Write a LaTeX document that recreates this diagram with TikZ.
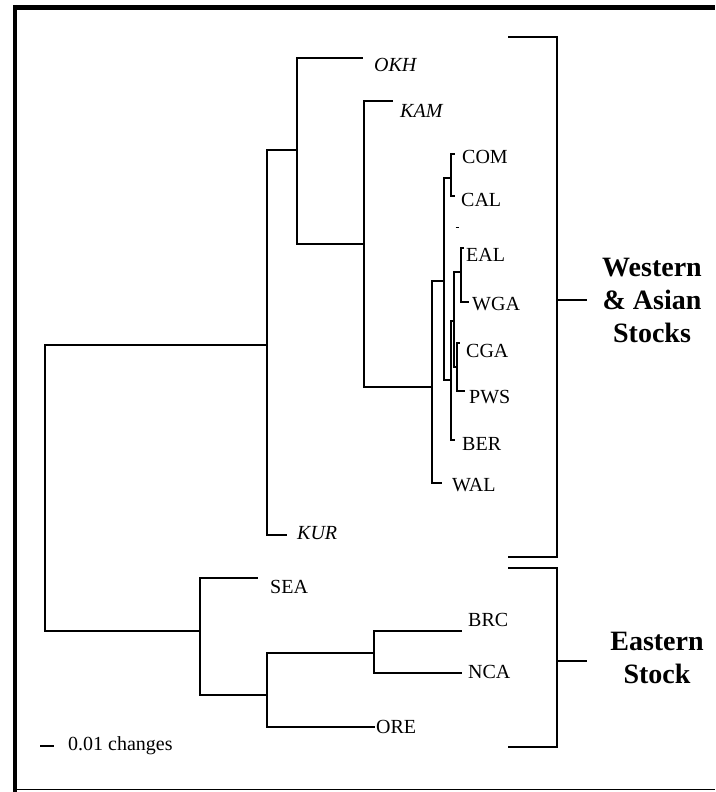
\documentclass[tikz,border=0pt]{standalone}
\usepackage{fontspec}
\setmainfont{Liberation Serif}
\usetikzlibrary{positioning}

\begin{document}
\begin{tikzpicture}[x=1pt,y=-1pt,
  every node/.style={font=\fontsize{20}{24}\selectfont,inner sep=0pt},
  leaf/.style={anchor=west},
  branch/.style={line width=1.8pt},
  brace/.style={line width=1.8pt},
  group/.style={font=\fontsize{28}{33}\selectfont\bfseries,align=center}]
\useasboundingbox (0,0) rectangle (715,792);
% frame
\draw[line width=4.5pt] (13,7.5) -- (715,7.5);
\draw[line width=4pt] (15,5) -- (15,792);
\draw[line width=1.5pt] (15,789.5) -- (715,789.5);
% internal nodes
\coordinate (root) at (45,488);
\coordinate (west) at (267,345);
\coordinate (okhkam) at (297,150);
\coordinate (kamgrp) at (364,244);
\coordinate (ncg) at (432,387);
\coordinate (cga1) at (444,281);
\coordinate (comcal) at (451,178);
\coordinate (cga2) at (451,380);
\coordinate (cga3) at (454,321);
\coordinate (ealwga) at (461,272);
\coordinate (cgapws) at (457,367);
\coordinate (east) at (200,631);
\coordinate (brcgrp) at (267,695);
\coordinate (brcnca) at (374,653);
% tips
\coordinate (tOKH) at (363,58);
\coordinate (tKAM) at (393,101);
\coordinate (tCOM) at (455,154);
\coordinate (tCAL) at (455,196);
\coordinate (tEAL) at (464,248);
\coordinate (tWGA) at (469,302);
\coordinate (tCGA) at (460,343);
\coordinate (tPWS) at (465,391);
\coordinate (tBER) at (455,440);
\coordinate (tWAL) at (442,483);
\coordinate (tKUR) at (287,535);
\coordinate (tSEA) at (258,578);
\coordinate (tBRC) at (462,631);
\coordinate (tNCA) at (462,673);
\coordinate (tORE) at (375,727);
% labels
\node[leaf] (OKH) at (374,65) {\itshape OKH};
\node[leaf] (KAM) at (400,111) {\itshape KAM};
\node[leaf] (COM) at (462,157) {COM};
\node[leaf] (CAL) at (461,200) {CAL};
\node[leaf] (EAL) at (466,255) {EAL};
\node[leaf] (WGA) at (472,304) {WGA};
\node[leaf] (CGA) at (466,351) {CGA};
\node[leaf] (PWS) at (469,397) {PWS};
\node[leaf] (BER) at (462,444) {BER};
\node[leaf] (WAL) at (452,485) {WAL};
\node[leaf] (KUR) at (297,533) {\itshape KUR};
\node[leaf] (SEA) at (270,587) {SEA};
\node[leaf] (BRC) at (468,620) {BRC};
\node[leaf] (NCA) at (468,672) {NCA};
\node[leaf] (ORE) at (376,727) {ORE};
% tree
\draw[branch] (root) |- (west) (root) |- (east);
\draw[branch] (west) |- (okhkam) (west) |- (tKUR);
\draw[branch] (okhkam) |- (tOKH) (okhkam) |- (kamgrp);
\draw[branch] (kamgrp) |- (tKAM) (kamgrp) |- (ncg);
\draw[branch] (ncg) |- (cga1) (ncg) |- (tWAL);
\draw[branch] (cga1) |- (comcal) (cga1) |- (cga2);
\draw[branch] (comcal) |- (tCOM) (comcal) |- (tCAL);
\draw[branch] (cga2) |- (cga3) (cga2) |- (tBER);
\draw[branch] (cga3) |- (ealwga) (cga3) |- (cgapws);
\draw[branch] (ealwga) |- (tEAL) (ealwga) |- (tWGA);
\draw[branch] (cgapws) |- (tCGA) (cgapws) |- (tPWS);
\draw[branch] (east) |- (tSEA) (east) |- (brcgrp);
\draw[branch] (brcgrp) |- (brcnca) (brcgrp) |- (tORE);
\draw[branch] (brcnca) |- (tBRC) (brcnca) |- (tNCA);
\draw[line width=1pt] (455.5,227) -- (458.5,227);
% scale bar
\coordinate (sb1) at (40,746);
\coordinate (sb2) at (54,746);
\draw[branch] (sb1) -- (sb2);
\node[leaf] (scale) at (68,746) {0.01 changes};
% groups
\draw[brace] (508,37) -- (557,37) -- (557,557) -- (508,557);
\draw[brace] (557,300) -- (587,300);
\node[group] (wgrp) at (652,300) {Western\\\& Asian\\Stocks};
\draw[brace] (508,568) -- (557,568) -- (557,747) -- (508,747);
\draw[brace] (557,661) -- (587,661);
\node[group] (egrp) at (657,658) {Eastern\\Stock};
\end{tikzpicture}
\end{document}
